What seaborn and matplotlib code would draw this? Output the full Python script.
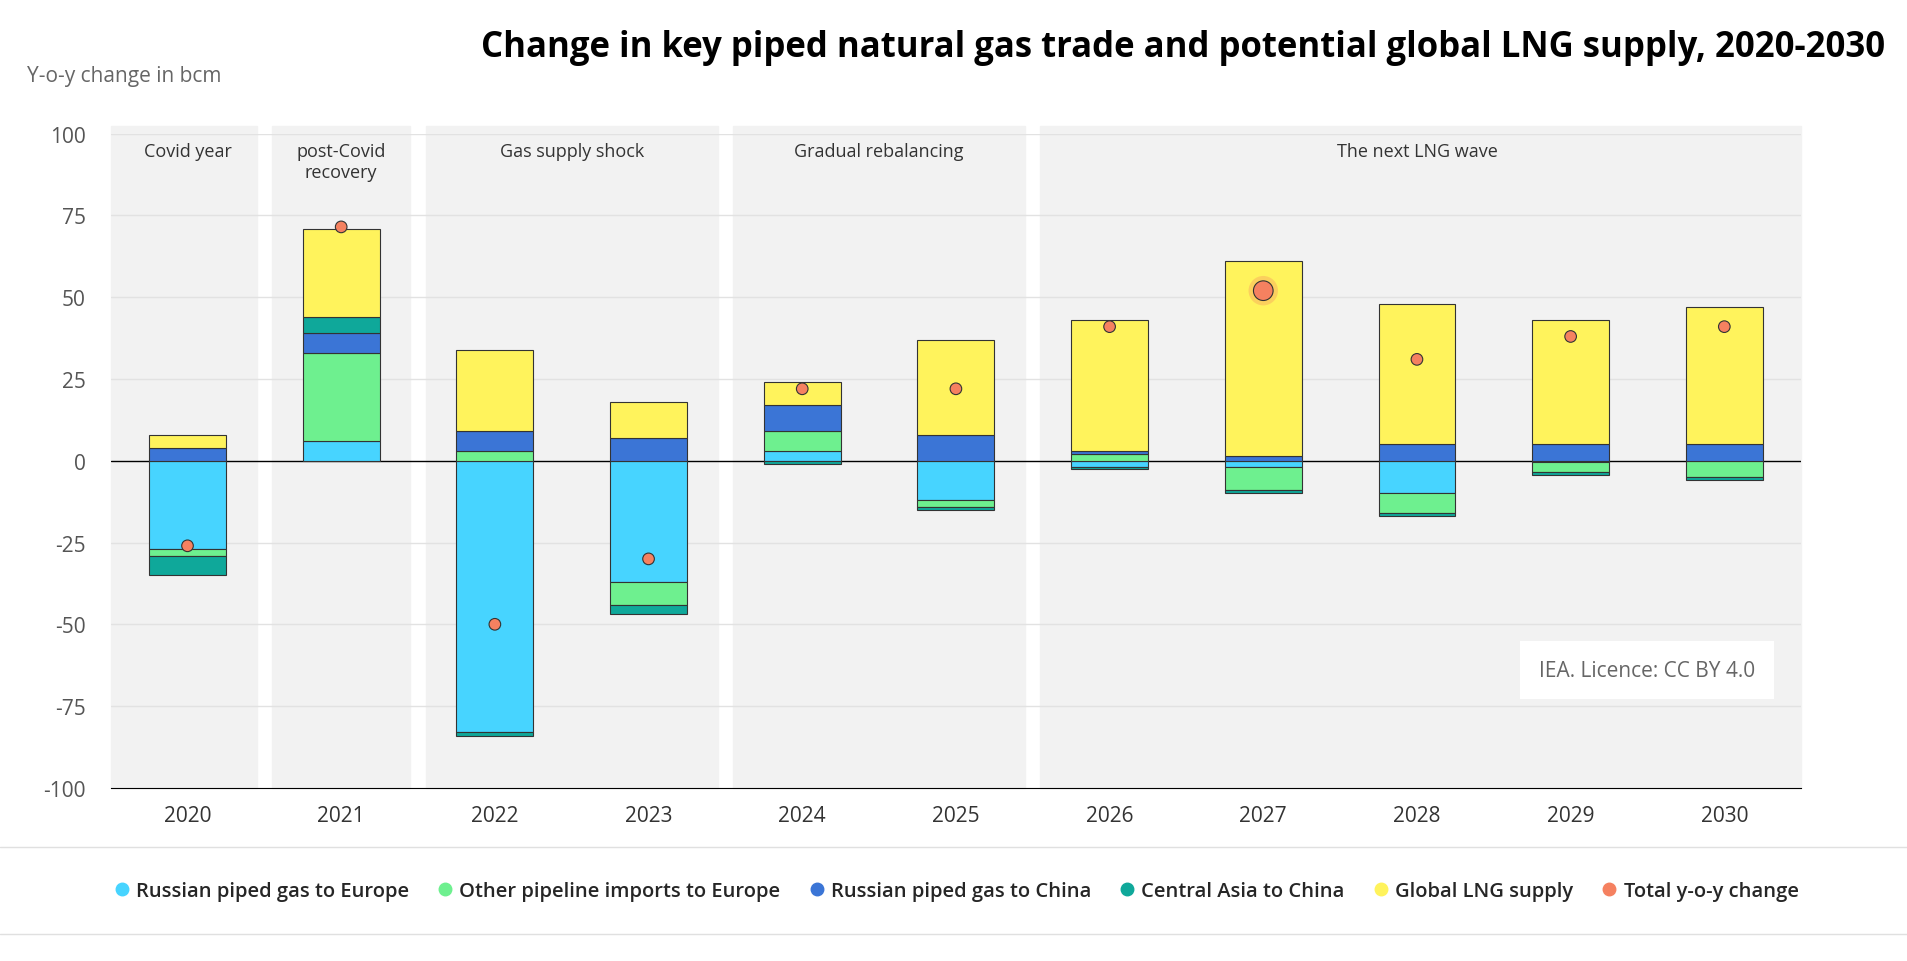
import numpy as np
import matplotlib.pyplot as plt
import seaborn as sns
from matplotlib.lines import Line2D

# ── Data ──────────────────────────────────────────────
years = ['2020', '2021', '2022', '2023', '2024', '2025', '2026', '2027', '2028', '2029', '2030']
russia_europe = [-27, 6, -83, -37, 3, -12, -2, -2, -10, -0.5, 0]
other_europe = [-2, 27, 3, -7, 6, -2, 2, -7, -6, -3, -5]
russia_china = [4, 6, 6, 7, 8, 8, 1, 1.5, 5, 5, 5]
central_asia = [-6, 5, -1, -3, -1, -1, -0.5, -1, -1, -1, -1]
lng = [4, 27, 25, 11, 7, 29, 40, 59.5, 43, 38, 42]
total = [-26, 71.5, -50, -30, 22, 22, 41, 52, 31, 38, 41]

periods = ['Covid year', 'post-Covid\nrecovery', 'Gas supply shock', 'Gradual rebalancing', 'The next LNG wave']
period_spans = [(0, 0), (1, 1), (2, 3), (4, 5), (6, 10)]

series = [
    ('Russian piped gas to Europe', russia_europe, '#47d4ff'),
    ('Other pipeline imports to Europe', other_europe, '#6ef08f'),
    ('Russian piped gas to China', russia_china, '#3b75d6'),
    ('Central Asia to China', central_asia, '#0fa89a'),
    ('Global LNG supply', lng, '#fff35c'),
]
total_color = '#f58160'

# ── Plot ──────────────────────────────────────────────
sns.set_style('white')
plt.rcParams['font.family'] = ['Open Sans', 'DejaVu Sans']
plt.rcParams['axes.unicode_minus'] = False

fig = plt.figure(figsize=(19.08, 9.62), dpi=100)
ax = fig.add_axes([0.058, 0.18, 0.886, 0.68])

x = np.arange(len(years))
ax.set_xlim(-0.5, len(years) - 0.5)
ax.set_ylim(-100, 100)

# period bands
for (a, b), name in zip(period_spans, periods):
    lo = a - 0.5 + (0.0 if a == 0 else 0.05)
    hi = b + 0.5 - (0.0 if b == len(years) - 1 else 0.05)
    ax.axvspan(lo, hi, ymin=0, ymax=1.012, color='#f2f2f2', zorder=0, clip_on=False)
    ax.text((a + b) / 2, 97.5, name, ha='center', va='top', fontsize=13, color='#333333')

for yv in [-75, -50, -25, 25, 50, 75, 100]:
    ax.axhline(yv, color='#e2e2e2', linewidth=1, zorder=1)
ax.axhline(0, color='black', linewidth=1, zorder=2)

pos_bottom = np.zeros(len(years))
neg_bottom = np.zeros(len(years))
for name, vals, col in series:
    vals = np.array(vals, dtype=float)
    bottom = np.where(vals >= 0, pos_bottom, neg_bottom)
    ax.bar(x, vals, 0.5, bottom=bottom, color=col, edgecolor='#333333', linewidth=0.8, zorder=3)
    pos_bottom += np.where(vals >= 0, vals, 0)
    neg_bottom += np.where(vals < 0, vals, 0)

sizes = [70] * len(years)
sizes[7] = 200
sns.scatterplot(x=x, y=total, s=sizes, color=total_color, edgecolor='#333333', linewidth=0.8,
                zorder=5, ax=ax, legend=False)
ax.scatter([7], [total[7]], s=450, color=total_color, alpha=0.3, zorder=4, edgecolor='none')

ax.set_yticks([-100, -75, -50, -25, 0, 25, 50, 75, 100])
ax.tick_params(axis='y', length=0, labelsize=15, labelcolor='#555555', pad=18)
ax.set_xticks(x)
ax.set_xticklabels(years)
ax.set_xticks(np.arange(-0.5, len(years)), minor=True)
ax.tick_params(axis='x', which='major', length=0, pad=12, labelsize=15, labelcolor='#333333')
ax.tick_params(axis='x', which='minor', length=10, color='black', direction='out')
for s in ['top', 'right', 'left']:
    ax.spines[s].set_visible(False)
ax.spines['bottom'].set_position(('data', -100))
ax.spines['bottom'].set_color('black')

fig.text(0.014, 0.92, 'Y-o-y change in bcm', fontsize=15, color='#666666', ha='left', va='center')
fig.text(0.988, 0.95, 'Change in key piped natural gas trade and potential global LNG supply, 2020-2030',
         ha='right', va='center', fontsize=25, fontweight='bold', color='black')

ax.text(10.2, -64, 'IEA. Licence: CC BY 4.0', ha='right', va='center', fontsize=15,
        color='#666666', zorder=6,
        bbox=dict(boxstyle='square,pad=0.9', facecolor='white', edgecolor='none'))

# legend
handles = [Line2D([0], [0], marker='o', color='w', markerfacecolor=c, markeredgecolor=c,
                  markersize=9, label=n) for n, _, c in series]
handles.append(Line2D([0], [0], marker='o', color='w', markerfacecolor=total_color,
                      markeredgecolor=total_color, markersize=9, label='Total y-o-y change'))
fig.legend(handles=handles, loc='center', bbox_to_anchor=(0.5, 0.073), ncol=6, frameon=False,
           handletextpad=0.1, columnspacing=1.2, handlelength=1.2,
           prop={'weight': 'semibold', 'size': 14.5})
fig.add_artist(Line2D([0.0, 1.0], [0.118, 0.118], color='#e0e0e0', linewidth=1))
fig.add_artist(Line2D([0.0, 1.0], [0.028, 0.028], color='#e0e0e0', linewidth=1))

fig.savefig('out.png', dpi=100, facecolor='white')
